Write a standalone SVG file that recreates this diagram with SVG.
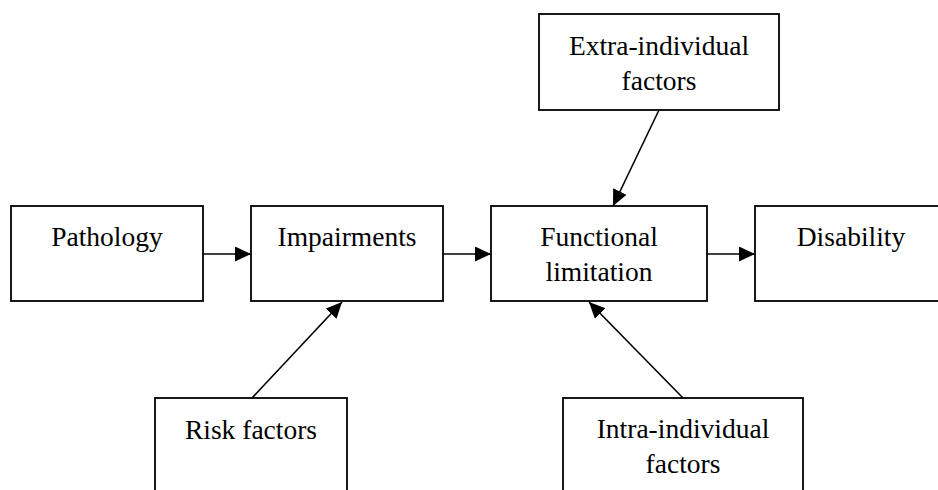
<svg xmlns="http://www.w3.org/2000/svg" width="938" height="490" viewBox="0 0 938 490">
<style>
.box{fill:#fff;stroke:#000;stroke-width:1.8}
.lbl{font-family:'Liberation Serif','Times New Roman',Times,'DejaVu Serif',serif;font-size:27.5px;fill:#000;text-anchor:middle}
.edge{stroke:#000;stroke-width:1.6;fill:none;marker-end:url(#ah)}
</style>
<defs>
<marker id="ah" markerUnits="userSpaceOnUse" markerWidth="17" markerHeight="16" refX="16" refY="7.5" orient="auto">
<path d="M0,0 L16,7.5 L0,15 z" fill="#000"/>
</marker>
</defs>
<rect width="938" height="490" fill="#fff"/>
<g id="connectors">
<line class="edge" x1="203" y1="254" x2="251" y2="254"/>
<line class="edge" x1="443" y1="254" x2="491" y2="254"/>
<line class="edge" x1="707" y1="254" x2="755" y2="254"/>
<line class="edge" x1="659" y1="110" x2="613" y2="206"/>
<line class="edge" x1="252" y1="398" x2="342" y2="302"/>
<line class="edge" x1="683" y1="398" x2="589" y2="302"/>
</g>
<g id="pathology">
<rect class="box" x="11" y="206" width="192" height="95"/>
<text class="lbl" font-family="Liberation Serif" x="107" y="246">Pathology</text>
</g>
<g id="impairments">
<rect class="box" x="251" y="206" width="192" height="95"/>
<text class="lbl" font-family="Liberation Serif" x="347" y="246">Impairments</text>
</g>
<g id="functional">
<rect class="box" x="491" y="206" width="216" height="95"/>
<text class="lbl" font-family="Liberation Serif" x="599" y="246">Functional</text>
<text class="lbl" font-family="Liberation Serif" x="599" y="281">limitation</text>
</g>
<g id="disability">
<rect class="box" x="755" y="206" width="192" height="95"/>
<text class="lbl" font-family="Liberation Serif" x="851" y="246">Disability</text>
</g>
<g id="extra">
<rect class="box" x="539" y="14" width="240" height="96"/>
<text class="lbl" font-family="Liberation Serif" x="659" y="55">Extra-individual</text>
<text class="lbl" font-family="Liberation Serif" x="659" y="90">factors</text>
</g>
<g id="risk">
<rect class="box" x="155" y="398" width="192" height="100"/>
<text class="lbl" font-family="Liberation Serif" x="251" y="439">Risk factors</text>
</g>
<g id="intra">
<rect class="box" x="563" y="398" width="240" height="100"/>
<text class="lbl" font-family="Liberation Serif" x="683" y="438">Intra-individual</text>
<text class="lbl" font-family="Liberation Serif" x="683" y="473">factors</text>
</g>
</svg>
